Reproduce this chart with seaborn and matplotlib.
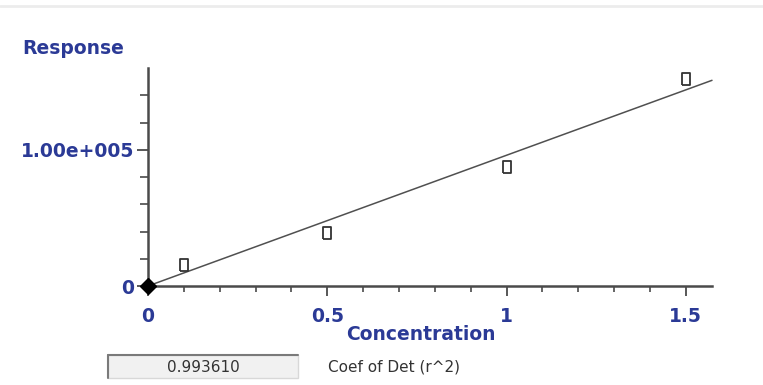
"""
Calibration curve: Response vs Concentration with a fitted line
and the coefficient of determination shown below the plot.
"""

import matplotlib
matplotlib.use("Agg")
import matplotlib.pyplot as plt
import matplotlib.ticker as mtick
from matplotlib.patches import Rectangle
from matplotlib.lines import Line2D
import seaborn as sns
import numpy as np
import pandas as pd

# ── data ─────────────────────────────────────────────────────────────────────
concentration = [0.1, 0.5, 1.0, 1.5]
response = [15400, 39000, 87500, 152200]
origin_x = [0.0]
origin_y = [0.0]
x_ticks = [0, 0.5, 1, 1.5]
x_tick_labels = ["0", "0.5", "1", "1.5"]
y_ticks = [0, 100000]
y_tick_labels = ["0", "1.00e+005"]
r2_text = "0.993610"

X_MAX = 1.573
Y_MAX = 160000

# ── style ────────────────────────────────────────────────────────────────────
sns.set_style("ticks")
plt.rcParams["font.family"] = ["DejaVu Sans"]
NAVY = "#2B3A96"
AXIS = "#4a4a4a"
W, H = 763, 385

fig = plt.figure(figsize=(W / 100, H / 100), dpi=100, facecolor="white")
ax = fig.add_axes([148 / W, (H - 286) / H, 564 / W, 218 / H])
ax.set_facecolor("white")

df = pd.DataFrame({"conc": concentration, "resp": response})

# fit through origin
slope = np.sum(df["conc"] * df["resp"]) / np.sum(df["conc"] ** 2)
fit = pd.DataFrame({"conc": [0.0, X_MAX]})
fit["resp"] = slope * fit["conc"]

sns.lineplot(data=fit, x="conc", y="resp", ax=ax, color="#505050", lw=1.1,
             clip_on=False)

rect_marker = [(-0.33, -0.5), (0.33, -0.5), (0.33, 0.5), (-0.33, 0.5), (-0.33, -0.5)]
ax.plot(df["conc"], df["resp"], linestyle="none", marker=rect_marker,
        markersize=9, markerfacecolor="none", markeredgecolor="#333333",
        markeredgewidth=1.3, clip_on=False)
ax.plot(origin_x, origin_y, linestyle="none", marker="D", markersize=8,
        color="black", clip_on=False, zorder=5)

ax.set_xlim(0, X_MAX)
ax.set_ylim(0, Y_MAX)

ax.set_xticks(x_ticks)
ax.set_xticklabels(x_tick_labels)
ax.xaxis.set_minor_locator(mtick.MultipleLocator(0.1))
ax.set_yticks(y_ticks)
ax.set_yticklabels(y_tick_labels)
ax.yaxis.set_minor_locator(mtick.FixedLocator([20000, 40000, 60000, 80000,
                                               120000, 140000]))

for lab in ax.get_xticklabels() + ax.get_yticklabels():
    lab.set_fontweight("bold")
    lab.set_color(NAVY)
    lab.set_fontsize(13.5)

ax.tick_params(axis="x", which="major", length=7, width=1.3, color=AXIS,
               direction="out", pad=8)
ax.tick_params(axis="x", which="minor", length=4, width=1.2, color=AXIS,
               direction="out")
ax.tick_params(axis="y", which="major", length=8, width=1.3, color=AXIS,
               direction="out", pad=2)
ax.tick_params(axis="y", which="minor", length=6, width=1.2, color=AXIS,
               direction="out")

for side in ["top", "right"]:
    ax.spines[side].set_visible(False)
for side in ["left", "bottom"]:
    ax.spines[side].set_color(AXIS)
    ax.spines[side].set_linewidth(1.8)

ax.set_xlabel("")
ax.set_ylabel("")

# axis titles
fig.text(22 / W, 1 - 48 / H, "Response", ha="left", va="center",
         fontsize=13.5, fontweight="bold", color=NAVY)
fig.text(421 / W, 1 - 335 / H, "Concentration", ha="center", va="center",
         fontsize=13.5, fontweight="bold", color=NAVY)

# r^2 readout box
bx0, by0, bw, bh = 108, 355, 190, 23
fig.add_artist(Rectangle((bx0 / W, 1 - (by0 + bh) / H), bw / W, bh / H,
                         transform=fig.transFigure, facecolor="#f1f1f1",
                         edgecolor="#d8d8d8", lw=1))
fig.add_artist(Line2D([bx0 / W, (bx0 + bw) / W], [1 - by0 / H, 1 - by0 / H],
                      transform=fig.transFigure, color="#7a7a7a", lw=1.5))
fig.add_artist(Line2D([bx0 / W, bx0 / W], [1 - by0 / H, 1 - (by0 + bh) / H],
                      transform=fig.transFigure, color="#7a7a7a", lw=1.5))
fig.text((bx0 + bw / 2) / W, 1 - 367 / H, r2_text, ha="center", va="center",
         fontsize=11, color="#333333")
fig.text(328 / W, 1 - 367 / H, "Coef of Det (r^2)", ha="left", va="center",
         fontsize=11, color="#333333")

# faint header line at the top
fig.add_artist(Line2D([0, 1], [1 - 6 / H, 1 - 6 / H], transform=fig.transFigure,
                      color="#ececec", lw=2))

fig.savefig("out.png", dpi=100, facecolor="white")
